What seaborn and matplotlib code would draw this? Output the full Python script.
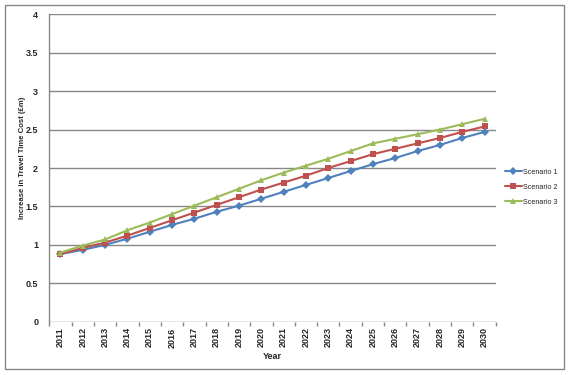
import numpy as np
import pandas as pd
import matplotlib
matplotlib.use('Agg')
import matplotlib.pyplot as plt
import seaborn as sns
from matplotlib.patches import Rectangle
from matplotlib.ticker import MultipleLocator

# data
years = list(range(2011, 2031))
scenario_1 = [0.88, 0.935, 1.00, 1.08, 1.17, 1.26, 1.34, 1.43, 1.51, 1.60,
              1.69, 1.78, 1.87, 1.96, 2.05, 2.13, 2.22, 2.30, 2.39, 2.47]
scenario_2 = [0.88, 0.96, 1.03, 1.12, 1.22, 1.32, 1.42, 1.52, 1.62, 1.72,
              1.81, 1.90, 2.00, 2.09, 2.18, 2.25, 2.32, 2.39, 2.47, 2.54]
scenario_3 = [0.90, 0.99, 1.07, 1.19, 1.29, 1.40, 1.51, 1.62, 1.73, 1.84,
              1.94, 2.03, 2.12, 2.22, 2.32, 2.38, 2.44, 2.50, 2.57, 2.64]
names = ['Scenario 1', 'Scenario 2', 'Scenario 3']

df = pd.DataFrame({
    'year': years * 3,
    'value': scenario_1 + scenario_2 + scenario_3,
    'scenario': np.repeat(names, len(years)),
})

palette = {'Scenario 1': '#4F81BD', 'Scenario 2': '#C0504D', 'Scenario 3': '#9BBB59'}
markers = {'Scenario 1': 'D', 'Scenario 2': 's', 'Scenario 3': '^'}
grey = '#878787'

sns.set_style('white')
plt.rcParams['font.family'] = ['Liberation Sans', 'DejaVu Sans']

fig = plt.figure(figsize=(5.72, 3.75), dpi=100)
ax = fig.add_axes([0.0862, 0.1421, 0.7804, 0.8198])

# outer chart border
fig.patches.append(Rectangle((5 / 572, 6 / 375), 559 / 572, 364 / 375,
                             transform=fig.transFigure, fill=False,
                             edgecolor=grey, linewidth=1.0))

sns.lineplot(data=df, x='year', y='value', hue='scenario', style='scenario',
             palette=palette, markers=markers, dashes=False, linewidth=1.5,
             markersize=4.5, markeredgewidth=0, ax=ax, legend=False)

ax.set_xlim(2010.5, 2030.5)
ax.set_ylim(0, 4)
ax.set_yticks(np.arange(0, 4.01, 0.5))
ax.set_yticklabels(['0', '0.5', '1', '1.5', '2', '2.5', '3', '3.5', '4'])
ax.set_xticks(years)
ax.set_xticklabels([str(y) for y in years], rotation=90)
ax.xaxis.set_minor_locator(MultipleLocator(1, offset=0.5))
ax.yaxis.grid(True, color=grey, linewidth=1.0)
ax.set_axisbelow(True)

for s in ['top', 'right', 'bottom']:
    ax.spines[s].set_visible(False)
ax.spines['left'].set_color(grey)
ax.spines['left'].set_linewidth(1.0)

ax.tick_params(axis='y', length=3, color=grey, width=1, pad=5, labelsize=6.5)
ax.tick_params(axis='x', which='major', length=0, pad=4, labelsize=6.5)
ax.tick_params(axis='x', which='minor', length=3, color=grey, width=1, bottom=True)
for lab in ax.get_xticklabels() + ax.get_yticklabels():
    lab.set_fontweight('bold')

ax.set_xlabel('Year', fontsize=6.5, fontweight='bold', labelpad=3)
ax.set_ylabel('Increase in Travel Time Cost (£m)', fontsize=5.6,
              fontweight='bold')
ax.yaxis.set_label_coords(-0.052, 0.532)

handles = [plt.Line2D([], [], color=palette[n], marker=markers[n], linewidth=1.5,
                      markersize=4.5, markeredgewidth=0) for n in names]
fig.legend(handles, names, loc='center left', bbox_to_anchor=(505 / 572, 1 - 187 / 375),
           frameon=False, fontsize=5.2, handlelength=2.3, handletextpad=0.2,
           labelspacing=1.1, borderaxespad=0, borderpad=0)

fig.savefig('out.png', dpi=100)
